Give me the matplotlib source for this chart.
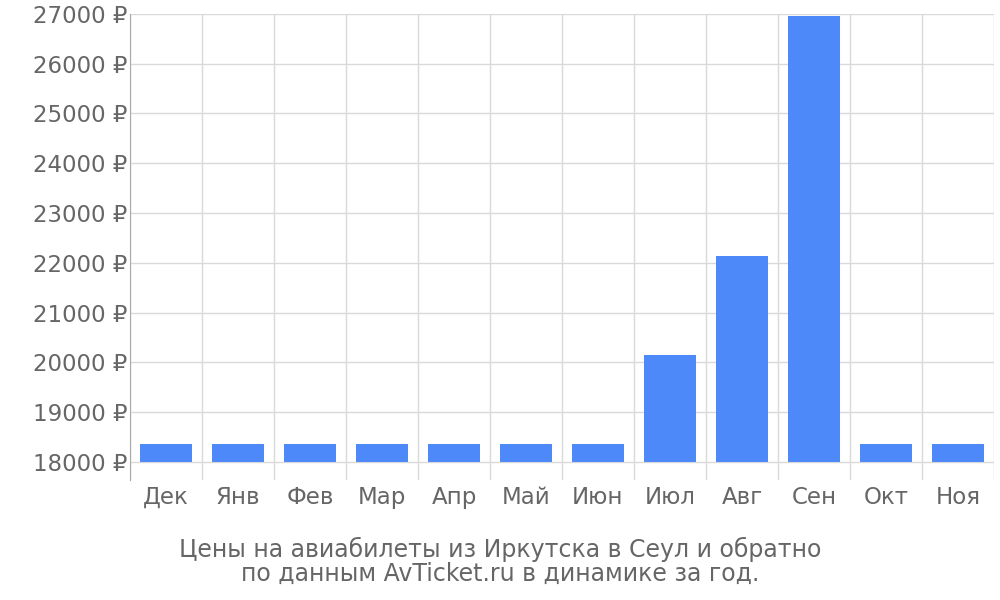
import numpy as np
import matplotlib.pyplot as plt

months = ["Дек", "Янв", "Фев", "Мар", "Апр", "Май", "Июн", "Июл", "Авг", "Сен", "Окт", "Ноя"]
prices = [18370, 18370, 18370, 18370, 18370, 18370, 18370, 20150, 22130, 26950, 18370, 18370]
yticks = list(range(18000, 27001, 1000))
base = 18000

fig = plt.figure(figsize=(10, 6), dpi=100)
ax = fig.add_axes([0.13, 0.2, 0.864, 0.777])

x = np.arange(len(months))
ax.bar(x, np.array(prices) - base, bottom=base, width=0.72, color="#4d89f9", zorder=3)

ax.set_xlim(-0.5, len(months) - 0.5)
ax.set_ylim(17640, 27000)
ax.set_yticks(yticks)
ax.set_yticklabels([f"{v} ₽" for v in yticks])
ax.set_xticks(x)
ax.set_xticklabels(months)
ax.set_xticks(np.arange(-0.5, len(months)), minor=True)

ax.grid(True, axis="y", color="#d9d9d9", lw=1, zorder=0)
ax.grid(True, axis="x", which="minor", color="#d9d9d9", lw=1, zorder=0)
ax.tick_params(axis="x", which="major", length=0, pad=4, labelsize=16.5, labelcolor="#666666")
ax.tick_params(axis="x", which="minor", length=0)
ax.tick_params(axis="y", length=0, pad=2, labelsize=16.5, labelcolor="#666666")
for s in ["top", "right", "bottom"]:
    ax.spines[s].set_visible(False)
ax.spines["left"].set_color("#aaaaaa")

fig.text(0.5, 0.065, "Цены на авиабилеты из Иркутска в Сеул и обратно\nпо данным AvTicket.ru в динамике за год.",
         ha="center", va="center", fontsize=17, color="#666666", linespacing=1.0)

fig.savefig("out.png", dpi=100)
